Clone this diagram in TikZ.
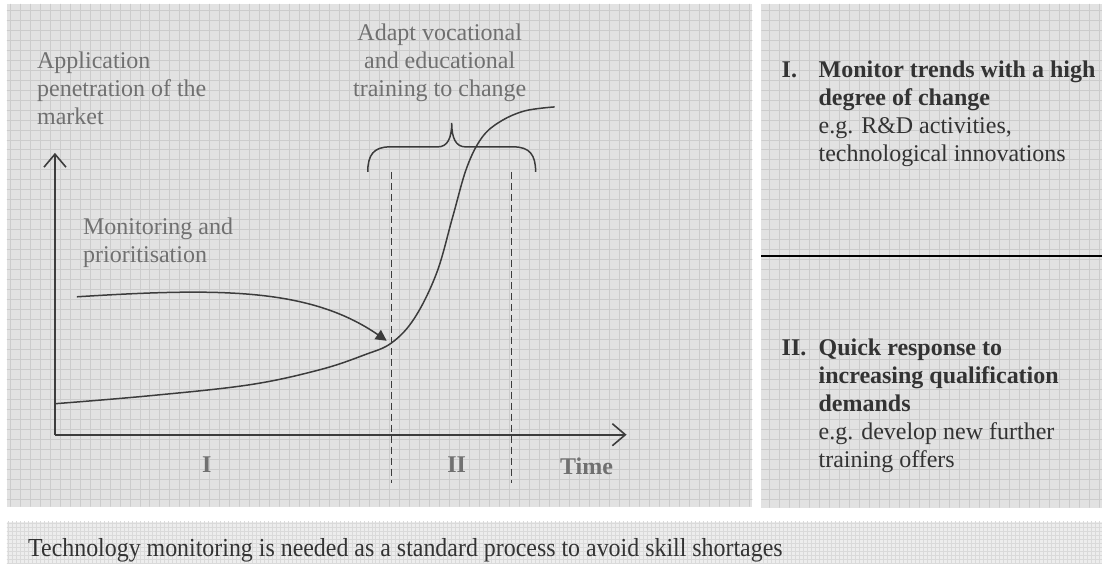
\documentclass[tikz,border=0pt]{standalone}
\usepackage{fontspec}
\setmainfont{Liberation Serif}
\usepackage{graphicx}
\usepackage{xcolor}
\usetikzlibrary{arrows.meta}
\definecolor{panelgray}{HTML}{E2E2E2}
\definecolor{gridgray}{HTML}{CCCCCC}
\definecolor{bargray}{HTML}{EDEDED}
\definecolor{bargrid}{HTML}{DADADA}
\definecolor{inkgray}{HTML}{3C3C3C}
\definecolor{labelgray}{HTML}{707070}
\definecolor{textgray}{HTML}{333333}
\tikzset{
    >={Straight Barb[length=13pt,width=22pt]},
    panel/.style={fill=panelgray},
    axis/.style={inkgray, line width=1.6pt, ->},
    curve/.style={inkgray, line width=1.5pt},
    guide/.style={inkgray, line width=1.4pt, dash pattern=on 7pt off 4pt},
    chartlabel/.style={labelgray, inner sep=0pt, align=left, font=\fontsize{24}{28}\selectfont},
    phase/.style={labelgray, inner sep=0pt, font=\fontsize{24}{28}\selectfont\bfseries},
    itemhead/.style={textgray, inner sep=0pt, anchor=base west, font=\fontsize{24}{28}\selectfont\bfseries},
    itembody/.style={textgray, inner sep=0pt, anchor=north west, align=left, font=\fontsize{24}{28}\selectfont},
}
\begin{document}
\begin{tikzpicture}[x=1pt, y=-1pt]
        \fill[panel] (7,4) rectangle (753,507);
        \fill[panel] (762,4) rectangle (1103,508);
        \fill[bargray] (7,522) rectangle (1103,564);
        \begin{scope}
            \clip (7,4) rectangle (753,507) (762,4) rectangle (1103,508);
            \draw[gridgray, line width=0.8pt, step=10pt] (0,510) grid (1103,0);
        \end{scope}
        \begin{scope}
            \clip (7,522) rectangle (1103,564);
            \draw[bargrid, line width=0.5pt, step=4pt] (0,564) grid (1103,520);
        \end{scope}
        \coordinate (origin) at (55,435);
        \coordinate (yend) at (55,153);
        \coordinate (xend) at (627,435);
        \draw[axis] (origin) -- (yend);
        \draw[axis] (origin) -- (xend);
        \draw[curve] plot[smooth, tension=0.6] coordinates {(55,404) (150,396) (250,385) (320,370)
            (365,355) (392,343) (415,318) (437,273) (453,217) (467,168) (482,138) (500,122) (525,111) (555,107)};
        \coordinate (mstart) at (77,297);
        \coordinate (mend) at (387,341);
        \draw[curve, -{Triangle[length=11pt,width=11pt]}] (mstart) .. controls (220,288) and (310,288) .. (mend);
        \foreach \gx in {392,512}
            \draw[guide] (\gx,172) -- (\gx,483);
        \draw[curve] (368,172) .. controls (368,155) and (374,147) .. (390,147) -- (438,147)
            .. controls (448,147) and (452,138) .. (452,123) .. controls (452,138) and (456,147) .. (466,147)
            -- (514,147) .. controls (530,147) and (536,155) .. (536,172);
        \node[chartlabel, anchor=west] (penetration) at (37,88) {Application\\penetration of the\\market};
        \node[chartlabel, anchor=west] (monitoring) at (83,243) {Monitoring and\\prioritisation};
        \node[chartlabel, align=center] (adapt) at (440,63) {Adapt vocational\\and educational\\training to change};
        \node[phase] (phaseI) at (207,465) {I};
        \node[phase] (phaseII) at (457,465) {II};
        \node[phase] (time) at (587,467) {Time};
        \node[itemhead] (headI) at (782,78) {I.};
        \node[itembody] (bodyI) at (819,61) {\textbf{Monitor trends with a high}\\\textbf{degree of change}\\e.g. R\&D activities,\\technological innovations};
        \coordinate (splitL) at (762,256);
        \coordinate (splitR) at (1103,256);
        \draw[black, line width=1.5pt] (splitL) -- (splitR);
        \node[itemhead] (headII) at (782,356) {II.};
        \node[itembody] (bodyII) at (819,339) {\textbf{Quick response to}\\\textbf{increasing qualification}\\\textbf{demands}\\e.g. develop new further\\training offers};
        \node[textgray, anchor=base west, inner sep=0pt] (summary) at (28,557)
            {\fontsize{26}{30}\selectfont\scalebox{0.92}[1]{Technology monitoring is needed as a standard process to avoid skill shortages}};
        \useasboundingbox (0,0) rectangle (1103,564);
\end{tikzpicture}
\end{document}
